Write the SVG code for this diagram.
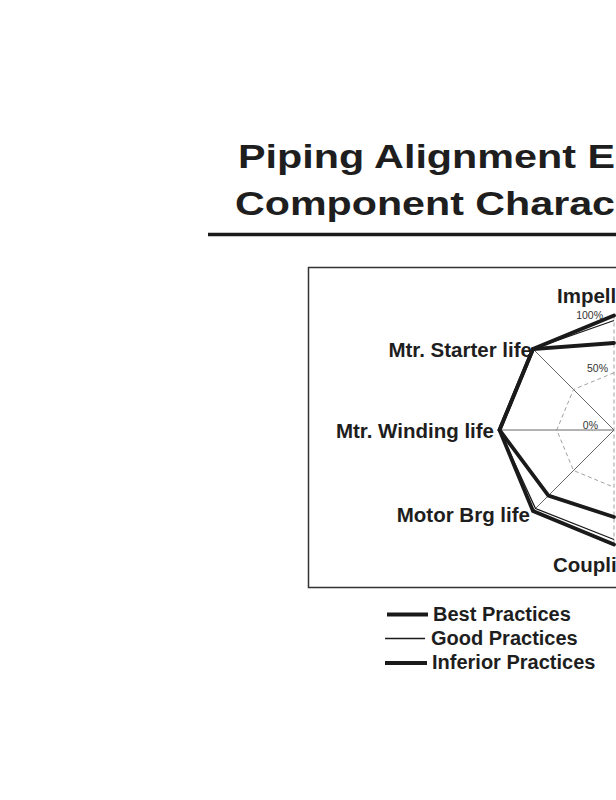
<svg xmlns="http://www.w3.org/2000/svg" width="616" height="800" viewBox="0 0 616 800">
<style>
.title{font-family:"Liberation Sans",Arial,sans-serif;font-weight:bold;font-size:34px;fill:#1e1e1e}
.axis{font-family:"Liberation Sans",Arial,sans-serif;font-weight:bold;font-size:20.5px;fill:#1e1e1e}
.pct{font-family:"Liberation Sans",Arial,sans-serif;font-size:10.5px;fill:#333;text-anchor:end}
.leg{font-family:"Liberation Sans",Arial,sans-serif;font-weight:bold;font-size:20px;fill:#1e1e1e}
.spoke{stroke:#555;stroke-width:0.9;fill:none}
.ring{stroke:#888;stroke-width:0.8;fill:none;stroke-dasharray:4 3}
.thick{stroke:#1a1a1a;stroke-width:3.8;fill:none;stroke-linejoin:miter;stroke-linecap:round}
.thin{stroke:#1a1a1a;stroke-width:1.3;fill:none;stroke-linejoin:miter}
</style>
<rect width="616" height="800" fill="#fff"/>
<g id="title">
<text class="title" x="238" y="168" textLength="377" lengthAdjust="spacingAndGlyphs">Piping Alignment E</text>
<text class="title" x="235" y="215" textLength="380" lengthAdjust="spacingAndGlyphs">Component Charac</text>
<line x1="208" y1="234.5" x2="616" y2="234.5" stroke="#1a1a1a" stroke-width="3.5"/>
</g>
<g id="chart-frame">
<path d="M616,267.5 H308.5 V587.5 H616" fill="none" stroke="#333" stroke-width="1.5"/>
</g>
<g id="grid">
<line class="spoke" x1="614" y1="430" x2="533" y2="349"/>
<line class="spoke" x1="614" y1="430" x2="499.5" y2="430"/>
<line class="spoke" x1="614" y1="430" x2="533" y2="511"/>
<line class="ring" x1="614" y1="315.5" x2="614" y2="544.5"/>
<polyline class="ring" points="614,372.75 573.5,389.5 556.75,430 573.5,470.5 614,487.25"/>
<text class="pct" x="603" y="319">100%</text>
<text class="pct" x="608" y="372">50%</text>
<text class="pct" x="598" y="429">0%</text>
</g>
<g id="series">
<polyline id="best" class="thick" points="614,315.5 533,349 499.5,430 533,511 614,544.5"/>
<polyline id="good" class="thin" points="614,320.5 533,349 499.5,430 535.5,508.5 614,539.5"/>
<polyline id="inferior" class="thick" points="614,343 533,349 499.5,430 548.4,495.6 614,517"/>
</g>
<g id="axis-labels">
<text class="axis" x="557" y="303">Impell</text>
<text class="axis" x="532" y="357" text-anchor="end">Mtr. Starter life</text>
<text class="axis" x="494" y="438" text-anchor="end">Mtr. Winding life</text>
<text class="axis" x="530" y="522" text-anchor="end">Motor Brg life</text>
<text class="axis" x="553" y="572">Coupli</text>
</g>
<g id="legend">
<line x1="387" y1="614.5" x2="428" y2="614.5" stroke="#1a1a1a" stroke-width="3.8"/>
<text class="leg" x="433" y="621">Best Practices</text>
<line x1="385" y1="638.5" x2="425" y2="638.5" stroke="#1a1a1a" stroke-width="1.5"/>
<text class="leg" x="431" y="645">Good Practices</text>
<line x1="385" y1="663" x2="427" y2="663" stroke="#1a1a1a" stroke-width="3.8"/>
<text class="leg" x="432" y="669">Inferior Practices</text>
</g>
</svg>
